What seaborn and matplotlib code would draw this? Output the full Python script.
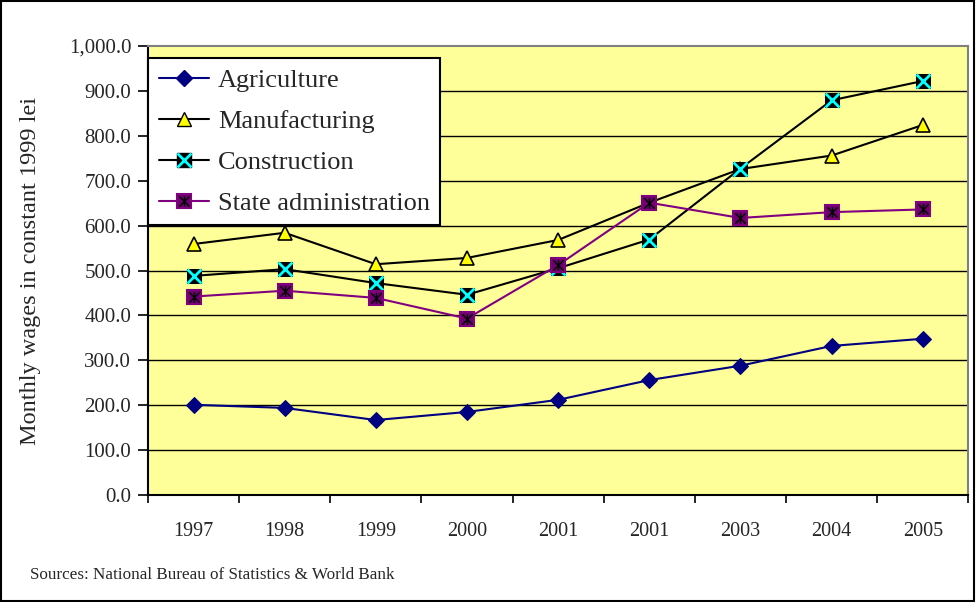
import matplotlib
matplotlib.use("Agg")
import matplotlib.pyplot as plt
import seaborn as sns
import pandas as pd
import numpy as np
from matplotlib.lines import Line2D
from matplotlib.legend_handler import HandlerTuple
from matplotlib.ticker import FuncFormatter, MultipleLocator
from matplotlib.patches import Rectangle
from matplotlib.path import Path

years = ["1997", "1998", "1999", "2000", "2001", "2001", "2003", "2004", "2005"]
agriculture = [201, 194, 167, 185, 212, 256, 288, 332, 348]
manufacturing = [559, 584, 514, 528, 568, 651, 726, 756, 824]
construction = [488, 503, 472, 446, 505, 569, 727, 879, 922]
state_admin = [442, 455, 439, 393, 512, 651, 617, 630, 636]

sns.set_theme(style="white")
plt.rcParams['font.family'] = ['Liberation Serif', 'DejaVu Serif']

star = Path([(-1, -1), (1, 1), (-1, 1), (1, -1), (0, -1), (0, 1)],
            [Path.MOVETO, Path.LINETO, Path.MOVETO, Path.LINETO, Path.MOVETO, Path.LINETO])

fig = plt.figure(figsize=(9.76, 6.02), dpi=100)
fig.patch.set_facecolor("white")
fig.patches.append(Rectangle((0.001, 0.001), 0.997, 0.997, transform=fig.transFigure,
                             fill=False, edgecolor="black", linewidth=1.5, zorder=10))
ax = fig.add_axes([0.1516, 0.1777, 0.8405, 0.7459])
ax.set_facecolor("#FFFF99")

x = np.arange(len(years))
df = pd.DataFrame({"x": x, "Agriculture": agriculture, "Manufacturing": manufacturing,
                   "Construction": construction, "State administration": state_admin})

for v in range(100, 1000, 100):
    ax.axhline(v, color="black", linewidth=1.0, zorder=1)

sns.lineplot(data=df, x="x", y="Agriculture", ax=ax, color="#000080", linewidth=1.5,
             marker="D", markersize=8.5, markerfacecolor="#000080", markeredgecolor="#000080", zorder=3)
sns.lineplot(data=df, x="x", y="Manufacturing", ax=ax, color="black", linewidth=1.5,
             marker="^", markersize=10.5, markerfacecolor="#FFFF00", markeredgecolor="black",
             markeredgewidth=1.2, zorder=3)
sns.lineplot(data=df, x="x", y="Construction", ax=ax, color="black", linewidth=1.5,
             marker="s", markersize=10.5, markerfacecolor="black", markeredgecolor="black", zorder=4)
ax.plot(x, construction, linestyle="none", marker="x", markersize=10.5, color="#00FFFF",
        markeredgewidth=2, zorder=5)
sns.lineplot(data=df, x="x", y="State administration", ax=ax, color="#800080", linewidth=1.5,
             marker="s", markersize=10.5, markerfacecolor="#6E006E", markeredgecolor="#800080",
             markeredgewidth=1.5, zorder=6)
ax.plot(x, state_admin, linestyle="none", marker=star, markersize=7.5, color="black",
        markeredgewidth=1, zorder=7)

ax.set_xlim(-0.5, len(years) - 0.5)
ax.set_ylim(0, 1000)
ax.yaxis.set_major_locator(MultipleLocator(100))
ax.yaxis.set_major_formatter(FuncFormatter(lambda v, p: f"{v:,.1f}"))
ax.set_xticks(np.arange(-0.5, len(years) + 0.5, 1))
ax.set_xticklabels([])
ax.set_xticks(x, minor=True)
ax.set_xticklabels(years, minor=True)
ax.tick_params(axis="x", which="major", direction="out", length=6, width=1.2, color="black", bottom=True)
ax.tick_params(axis="x", which="minor", length=0, pad=19.5, labelsize=14.5)
ax.tick_params(axis="y", direction="out", length=7, width=1.2, color="black", left=True,
               labelsize=15, pad=5)
ax.set_xlabel("")
ax.set_ylabel("Monthly wages in constant 1999 lei", fontsize=17.5)
ax.yaxis.set_label_coords(-0.130, 0.5)
for s in ("left", "bottom"):
    ax.spines[s].set_color("black")
    ax.spines[s].set_linewidth(1.5)
for s in ("top", "right"):
    ax.spines[s].set_color("#808080")
    ax.spines[s].set_linewidth(1.5)

h_ag = Line2D([], [], color="#000080", lw=1.5, marker="D", markersize=8.5,
              markerfacecolor="#000080", markeredgecolor="#000080")
h_ma = Line2D([], [], color="black", lw=1.5, marker="^", markersize=10.5,
              markerfacecolor="#FFFF00", markeredgecolor="black")
h_co = (Line2D([], [], color="black", lw=1.5, marker="s", markersize=10.5, markerfacecolor="black"),
        Line2D([], [], linestyle="none", marker="x", markersize=10.5, color="#00FFFF", markeredgewidth=2))
h_sa = (Line2D([], [], color="#800080", lw=1.5, marker="s", markersize=10.5,
               markerfacecolor="#6E006E", markeredgecolor="#800080", markeredgewidth=1.5),
        Line2D([], [], linestyle="none", marker=star, markersize=7.5, color="black", markeredgewidth=1))
leg = ax.legend([h_ag, h_ma, h_co, h_sa],
                ["Agriculture", "Manufacturing", "Construction", "State administration"],
                handler_map={tuple: HandlerTuple(ndivide=1)},
                loc="upper left", bbox_to_anchor=(0.0, 0.973), fontsize=19,
                frameon=True, fancybox=False, edgecolor="black", framealpha=1,
                borderpad=0.4, labelspacing=0.66, handlelength=1.9, handletextpad=0.35,
                borderaxespad=0.0)
leg.get_frame().set_linewidth(1.5)
leg.set_zorder(20)

fig.text(0.031, 0.045, "Sources: National Bureau of Statistics & World Bank", fontsize=12.3,
         ha="left", va="center")

fig.savefig("out.png", dpi=100)
